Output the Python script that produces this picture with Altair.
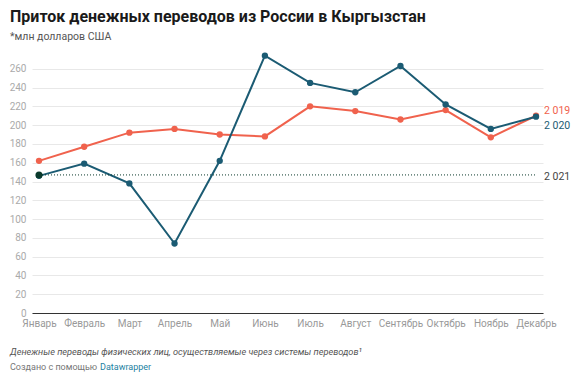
import altair as alt
import pandas as pd

months = ["Январь", "Февраль", "Март", "Апрель", "Май", "Июнь", "Июль",
          "Август", "Сентябрь", "Октябрь", "Ноябрь", "Декабрь"]
v2019 = [162, 177, 192, 196, 190, 188, 220, 215, 206, 216, 187, 210]
v2020 = [146, 159, 138, 74, 162, 274, 245, 235, 263, 222, 196, 209]
v2021 = [147]
series_names = ["2 019", "2 020", "2 021"]
y_ticks = [0, 20, 40, 60, 80, 100, 120, 140, 160, 180, 200, 220, 240, 260]

title = "Приток денежных переводов из России в Кыргызстан"
subtitle = "*млн долларов США"
note = "Денежные переводы физических лиц, осуществляемые через системы переводов¹"
credit_a = "Создано с помощью"
credit_b = "Datawrapper"

RED = "#f0624d"
BLUE = "#1b5b73"
DARK = "#0b3a2c"
FONT = "Roboto"

df = pd.DataFrame({
    "month": months * 2,
    "value": v2019 + v2020,
    "series": [series_names[0]] * 12 + [series_names[1]] * 12,
})
df21 = pd.DataFrame({"month": months[:1], "value": v2021})
rule21 = pd.DataFrame({"m1": [months[0]], "m2": [months[-1]], "value": v2021})

XSCALE = alt.Scale(type="point", padding=0.155, domain=months)
XAXIS = alt.Axis(title=None, labelAngle=0, ticks=False, domain=True,
                 domainColor="#333333", domainWidth=1,
                 labelColor="#999999", labelFont=FONT, labelFontSize=10,
                 labelPadding=5, grid=False, labelOverlap=False)


def xenc(field="month"):
    return alt.X(f"{field}:N", scale=XSCALE, axis=XAXIS)


ys = alt.Y("value:Q", scale=alt.Scale(domain=[0, 280], nice=False),
           axis=alt.Axis(title=None, values=y_ticks, ticks=False, domain=False,
                         labelColor="#aaaaaa", labelFont=FONT, labelFontSize=10,
                         labelPadding=6, gridColor="#e8e8e8", gridWidth=1,
                         labelOverlap=False))

color = alt.Color("series:N", scale=alt.Scale(domain=series_names[:2], range=[RED, BLUE]),
                  legend=None)

base = alt.Chart(df)
lines = base.mark_line(strokeWidth=2).encode(x=xenc(), y=ys, color=color, detail="series:N")
pts = base.mark_circle(size=40, opacity=1).encode(x=xenc(), y=ys, color=color)

rule = alt.Chart(rule21).mark_rule(strokeDash=[1, 2], strokeWidth=1, color=DARK).encode(
    x=xenc("m1"), x2="m2:N", y=ys)
pt21 = alt.Chart(df21).mark_circle(size=50, opacity=1, color=DARK).encode(
    x=xenc(), y=ys)

last = pd.DataFrame({"month": [months[-1]] * 3,
                     "value": [v2019[-1], v2020[-1], v2021[0]],
                     "series": series_names})


def end_label(i, col, dy):
    return alt.Chart(last.iloc[[i]]).mark_text(
        align="left", baseline="middle", dx=8, dy=dy, font=FONT, fontSize=10.5,
        color=col).encode(x=xenc(), y=ys, text="series:N")


lab19 = end_label(0, RED, -5)
lab20 = end_label(1, BLUE, 9)
lab21 = end_label(2, "#444444", 2)


def txt(s, x, y, size, col, weight="normal", style="normal"):
    return alt.Chart(pd.DataFrame({"t": [s]})).mark_text(
        align="left", baseline="alphabetic", font=FONT, fontSize=size, color=col,
        fontWeight=weight, fontStyle=style).encode(
        x=alt.value(x), y=alt.value(y), text="t:N")


t_title = txt(title, -22, -28, 16, "#1a1a1a", weight="bold")
t_sub = txt(subtitle, -22, -10, 10.5, "#555555")
t_note = txt(note, -22, 305, 9.2, "#555555", style="italic")
t_cr_a = txt(credit_a, -22, 320, 9, "#777777")
t_cr_b = txt(credit_b, 68, 320, 9, "#1d81a2")

chart = alt.layer(
    lines, rule, pts, pt21, lab19, lab20, lab21,
    t_title, t_sub, t_note, t_cr_a, t_cr_b
).properties(
    width=511, height=263,
    autosize=alt.AutoSizeParams(type="none"),
    padding={"left": 24, "top": 42, "right": 34, "bottom": 59},
    background="white",
).configure_view(strokeWidth=0)

chart.save("out.html", embed_options={"renderer": "svg", "actions": False})
